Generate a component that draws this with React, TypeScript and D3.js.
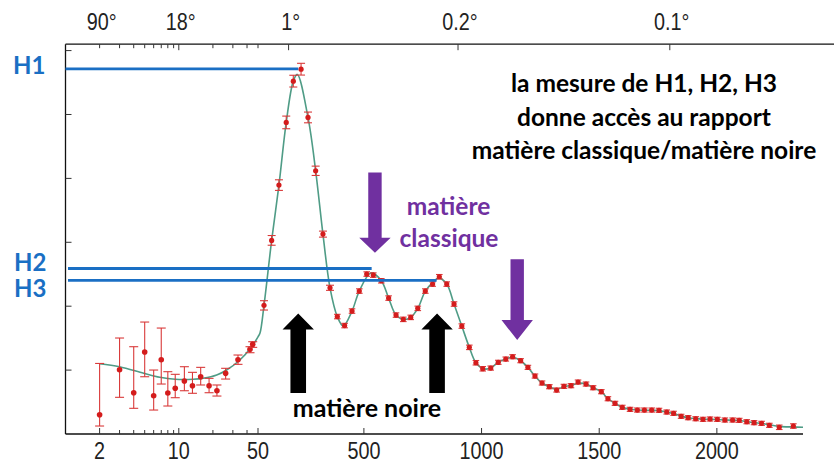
import React from 'react';
import * as d3 from 'd3';

const W = 834;
const H = 464;

// ---- Data (multipole ℓ, D_ℓ in µK²) ----
const lowEll = [2, 3, 4, 5, 6, 7, 8, 9.3, 11.2, 13.2, 15.6, 18.5, 21.7, 25.9, 33.3, 42.5, 44.9];
const lowD = [302, 1006, 646, 1283, 599, 1162, 641, 715, 829, 756, 896, 756, 677, 949, 1162, 1325, 1403];
const lowErrHi = [802, 496, 720, 469, 402, 496, 334, 219, 224, 209, 147, 115, 90, 79, 74, 41, 41];
const lowErrLo = [177, 432, 244, 387, 224, 380, 203, 147, 152, 119, 129, 110, 83, 89, 72, 53, 47];

const highEll = [75.5, 108, 139, 170, 200, 233, 262.5, 295, 326, 356, 387, 418, 449.5, 480.5, 512, 540, 574, 605,
  636.5, 667.5, 699, 729, 761, 792, 820.5, 852, 883, 916, 948, 976, 1005, 1039, 1071, 1103, 1132, 1166, 1197, 1227,
  1257, 1288, 1319, 1350, 1380, 1410, 1444, 1474, 1509, 1537, 1567, 1598, 1631, 1662, 1692, 1723, 1754, 1787, 1816,
  1848, 1878, 1910, 1941, 1971, 2002, 2034, 2067, 2095, 2127, 2158, 2190, 2223, 2265, 2325];
const highD = [2013, 3030, 3895, 4876, 5522, 5709, 4954, 4119, 3128, 2288, 1838, 1697, 1924, 2237, 2503, 2487, 2398, 2127,
  1861, 1794, 1825, 1966, 2237, 2346, 2461, 2346, 2034, 1689, 1356, 1115, 1021, 1032, 1122, 1173, 1209, 1147, 1043, 907,
  798, 740, 688, 746, 756, 813, 782, 724, 662, 552, 480, 418, 386, 375, 375, 375, 371, 344, 324,
  277, 255, 239, 230, 235, 230, 219, 219, 214, 192, 177, 167, 136, 105, 125];
const highErr = [73, 76, 83, 99, 92, 92, 84, 73, 47, 40, 35, 35, 35, 35, 35, 35, 35, 35,
  35, 35, 35, 35, 35, 35, 35, 35, 35, 35, 35, 35, 35, 32, 32, 32, 32, 32, 32, 32,
  32, 32, 32, 32, 32, 32, 32, 32, 32, 32, 32, 32, 32, 32, 32, 32, 32, 32, 32,
  32, 32, 32, 32, 32, 32, 32, 32, 32, 32, 32, 32, 32, 35, 35];

// model curve
const modelEll = [2, 3, 4.9, 6.8, 9.3, 13.4, 16.4, 21.6, 26.4, 34.6, 43.9, 50, 58.5, 75.5, 108, 139, 170, 200, 217,
  262.5, 295, 326, 356, 387, 412, 449.5, 480.5, 530, 574, 605, 636.5, 670, 699, 729, 761, 792, 818, 852, 883, 916, 948,
  976, 1010, 1039, 1071, 1103, 1132, 1166, 1197, 1227, 1257, 1288, 1319, 1350, 1380, 1410, 1444, 1474, 1509, 1537, 1567,
  1598, 1631, 1662, 1692, 1723, 1754, 1787, 1816, 1848, 1878, 1910, 1941, 1971, 2002, 2034, 2067, 2095, 2127, 2158,
  2190, 2223, 2265, 2325, 2366];
const modelD = [1100, 1053, 950, 887, 856, 856, 872, 923, 1001, 1158, 1366, 1520, 1580, 2013, 3030, 3895, 4876, 5522, 5627,
  4954, 4119, 3128, 2288, 1838, 1690, 1924, 2237, 2520, 2398, 2127, 1861, 1790, 1825, 1966, 2237, 2370, 2440, 2346, 2034, 1689, 1356,
  1115, 1020, 1032, 1122, 1175, 1200, 1147, 1043, 907, 798, 740, 700, 740, 760, 795, 782, 724, 662, 552, 480,
  418, 386, 375, 372, 370, 366, 344, 320, 280, 255, 240, 232, 232, 228, 220, 216, 212, 195, 178,
  166, 145, 120, 110, 105];

// axes
const bottomMajor = [2, 10, 50, 500, 1000, 1500, 2000];
const bottomLabels = ['2', '10', '50', '500', '1000', '1500', '2000'];
const bottomMinor = [3, 4, 5, 6, 7, 8, 9, 20, 30, 40];
const topMajor = [10, 180, 900, 1800];
const topMinor = [2, 3, 4, 5, 6, 7, 8, 9, 20, 30, 40, 50];
const topLabelEll = [2, 10, 180, 900, 1800];
const topLabels = ['90°', '18°', '1°', '0.2°', '0.1°'];
const yTicks = [1000, 2000, 3000, 4000, 5000, 6000];

// annotations
const hNames = ['H1', 'H2', 'H3'];
const hLevels = [5715, 2590, 2405];
const hEndEll = [221, 533, 809];
const purpleArrowEll = [547, 1151.5];
const purpleArrowTop = [4094, 2733];
const purpleArrowTip = [2836, 1470];
const blackArrowEll = [221, 811];
const blackArrowTip = [1885, 1885];
const blackArrowBottom = [641, 641];

// ---- scales ----
const xLog = d3.scaleLog().domain([1, 50]).range([65.5, 258]);
const xLin = d3.scaleLinear().domain([50, 2366]).range([258, 803]);
const xPos = (l: number) => (l <= 50 ? xLog(l) : xLin(l));
const yPos = d3.scaleLinear().domain([0, 6100]).range([434, 44.2]);

const RED = '#d41c1c';
const BAR = '#d93a3a';
const TEAL = '#4f9c86';
const BLUE = '#1a6fc4';
const PURPLE = '#7030a0';
const FONT = 'Lato, "Open Sans", sans-serif';
const TICKFONT = '"Liberation Sans", Arial, sans-serif';

function blockArrow(cx: number, yStart: number, yTip: number, shaftW: number, headW: number, headH: number) {
  const dir = yTip > yStart ? 1 : -1;
  const yBase = yTip - dir * headH;
  return [
    [cx - shaftW / 2, yStart],
    [cx + shaftW / 2, yStart],
    [cx + shaftW / 2, yBase],
    [cx + headW / 2, yBase],
    [cx, yTip],
    [cx - headW / 2, yBase],
    [cx - shaftW / 2, yBase],
  ].map((p) => p.join(',')).join(' ');
}

export default function App() {
  const line = d3
    .line<number>()
    .x((_, i) => xPos(modelEll[i]))
    .y((d) => yPos(d))
    .curve(d3.curveCatmullRom.alpha(0.5));
  const curvePath = line(modelD) || '';

  const y0 = yPos(0);
  const yTop = yPos(6100);
  const xLeft = xPos(1);
  const xRight = xPos(2366);

  return (
    <svg width={W} height={H} style={{ position: 'absolute', left: 0, top: 0, background: '#fff' }}>
      <rect x={0} y={0} width={W} height={H} fill="#fff" />
      {/* frame */}
      <line x1={xLeft} y1={yTop} x2={W} y2={yTop} stroke="#111" strokeWidth={1.3} />
      <line x1={xLeft} y1={yTop} x2={xLeft} y2={y0} stroke="#111" strokeWidth={1.3} />
      <line x1={xLeft} y1={y0} x2={xRight} y2={y0} stroke="#111" strokeWidth={1.3} />

      {/* y ticks */}
      {yTicks.map((t) => (
        <line key={'yt' + t} x1={xLeft} x2={xLeft + 6} y1={yPos(t)} y2={yPos(t)} stroke="#333" strokeWidth={1} />
      ))}

      {/* bottom ticks */}
      {bottomMajor.map((l) => (
        <line key={'bM' + l} x1={xPos(l)} x2={xPos(l)} y1={y0} y2={y0 - 6} stroke="#333" strokeWidth={1} />
      ))}
      {bottomMinor.map((l) => (
        <line key={'bm' + l} x1={xPos(l)} x2={xPos(l)} y1={y0} y2={y0 - 4} stroke="#333" strokeWidth={1} />
      ))}
      {bottomMajor.map((l, i) => (
        <text
          key={'bl' + l}
          transform={`translate(${xPos(l)},459) scale(0.86,1)`}
          textAnchor="middle"
          fontFamily={TICKFONT}
          fontSize={23}
          fill="#222"
        >
          {bottomLabels[i]}
        </text>
      ))}

      {/* top ticks */}
      {topMajor.map((l) => (
        <line key={'tM' + l} x1={xPos(l)} x2={xPos(l)} y1={yTop} y2={yTop + 6} stroke="#333" strokeWidth={1} />
      ))}
      {topMinor.map((l) => (
        <line key={'tm' + l} x1={xPos(l)} x2={xPos(l)} y1={yTop} y2={yTop + 4} stroke="#333" strokeWidth={1} />
      ))}
      {topLabelEll.map((l, i) => (
        <text
          key={'tl' + l}
          transform={`translate(${xPos(l) + 2},30) scale(0.86,1)`}
          textAnchor="middle"
          fontFamily={TICKFONT}
          fontSize={23}
          fill="#222"
        >
          {topLabels[i]}
        </text>
      ))}

      {/* model curve */}
      <path d={curvePath} fill="none" stroke={TEAL} strokeWidth={1.6} />

      {/* low-ℓ points */}
      {lowEll.map((l, i) => {
        const x = xPos(l);
        const yt = yPos(lowD[i] + lowErrHi[i]);
        const yb = yPos(lowD[i] - lowErrLo[i]);
        return (
          <g key={'lp' + i}>
            <line x1={x} x2={x} y1={yt} y2={yb} stroke={BAR} strokeWidth={1.1} />
            <line x1={x - 4.5} x2={x + 4.5} y1={yt} y2={yt} stroke={BAR} strokeWidth={1.1} />
            <line x1={x - 4.5} x2={x + 4.5} y1={yb} y2={yb} stroke={BAR} strokeWidth={1.1} />
            <circle cx={x} cy={yPos(lowD[i])} r={2.8} fill={RED} />
          </g>
        );
      })}

      {/* high-ℓ points */}
      {highEll.map((l, i) => {
        const x = xPos(l);
        const yt = yPos(highD[i] + highErr[i]);
        const yb = yPos(highD[i] - highErr[i]);
        const cw = i < 10 ? 4 : 3.3;
        return (
          <g key={'hp' + i}>
            <line x1={x} x2={x} y1={yt} y2={yb} stroke={BAR} strokeWidth={1.1} />
            <line x1={x - cw} x2={x + cw} y1={yt} y2={yt} stroke={BAR} strokeWidth={1.1} />
            <line x1={x - cw} x2={x + cw} y1={yb} y2={yb} stroke={BAR} strokeWidth={1.1} />
            <circle cx={x} cy={yPos(highD[i])} r={2.6} fill={RED} />
          </g>
        );
      })}

      {/* H lines */}
      {hLevels.map((v, i) => (
        <line
          key={'h' + i}
          x1={i === 0 ? xLeft : xLeft + 2.5}
          x2={xPos(hEndEll[i])}
          y1={yPos(v)}
          y2={yPos(v)}
          stroke={BLUE}
          strokeWidth={2.8}
        />
      ))}
      <text x={13} y={73.5} fontFamily={FONT} fontWeight={700} fontSize={24} fill={BLUE}>{hNames[0]}</text>
      <text x={14} y={271} fontFamily={FONT} fontWeight={700} fontSize={24} fill={BLUE}>{hNames[1]}</text>
      <text x={14} y={296.5} fontFamily={FONT} fontWeight={700} fontSize={24} fill={BLUE}>{hNames[2]}</text>

      {/* purple arrows */}
      {purpleArrowEll.map((l, i) => (
        <polygon
          key={'pa' + i}
          points={blockArrow(xPos(l), yPos(purpleArrowTop[i]), yPos(purpleArrowTip[i]), 13.4, 31.4, i === 0 ? 15 : 20)}
          fill={PURPLE}
        />
      ))}
      {/* black arrows */}
      {blackArrowEll.map((l, i) => (
        <polygon
          key={'ba' + i}
          points={blockArrow(xPos(l), yPos(blackArrowBottom[i]), yPos(blackArrowTip[i]), 15.6, 31.4, 16)}
          fill="#000"
        />
      ))}

      {/* annotation texts */}
      <text x={448.5} y={215} textAnchor="middle" fontFamily={FONT} fontWeight={700} fontSize={24.5} fill={PURPLE}>matière</text>
      <text x={449} y={247} textAnchor="middle" fontFamily={FONT} fontWeight={700} fontSize={24.5} fill={PURPLE}>classique</text>
      <text x={367} y={417} textAnchor="middle" fontFamily={FONT} fontWeight={700} fontSize={25} fill="#000">matière noire</text>
      <text x={644} y={92} textAnchor="middle" fontFamily={FONT} fontWeight={700} fontSize={24.5} fill="#000">la mesure de H1, H2, H3</text>
      <text x={644} y={125.5} textAnchor="middle" fontFamily={FONT} fontWeight={700} fontSize={24.5} fill="#000">donne accès au rapport</text>
      <text x={644} y={158.5} textAnchor="middle" fontFamily={FONT} fontWeight={700} fontSize={24.5} fill="#000">matière classique/matière noire</text>
    </svg>
  );
}
